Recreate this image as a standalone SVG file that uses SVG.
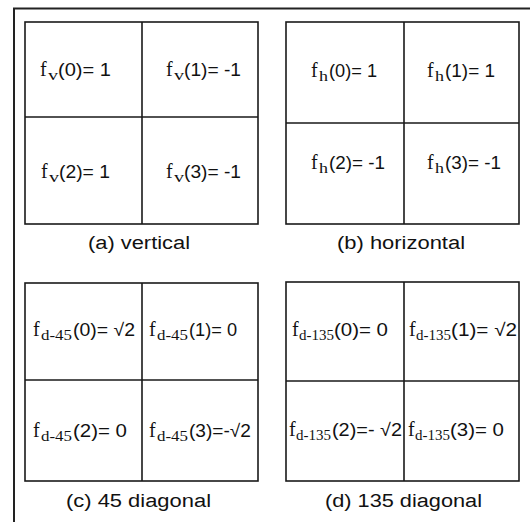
<svg xmlns="http://www.w3.org/2000/svg" width="530" height="522" viewBox="0 0 530 522">
<style>
.frame{fill:none;stroke:#222;stroke-width:2}
.grid{fill:none;stroke:#1a1a1a;stroke-width:1.6}
.f{font-family:"Liberation Serif",serif;font-size:20px;fill:#111}
.sub{font-family:"Liberation Serif",serif;font-size:14px;fill:#111}
.m{font-family:"Liberation Sans",Arial,sans-serif;font-size:18px;fill:#111}
.cap{font-family:"Liberation Sans",Arial,sans-serif;font-size:18px;fill:#111}
</style>
<rect width="530" height="522" fill="#fff"/>
<path class="frame" d="M14,522 V8.5 H530"/>
<g id="panel-a">
<rect class="grid" x="25" y="22" width="233" height="202"/>
<path class="grid" d="M142,22 V224 M25,117 H258"/>
<text><tspan class="f" x="40" y="76">f</tspan><tspan class="sub" x="48" y="80" textLength="10" lengthAdjust="spacingAndGlyphs">v</tspan><tspan class="m" x="58" y="76" textLength="53" lengthAdjust="spacingAndGlyphs">(0)= 1</tspan></text>
<text><tspan class="f" x="166" y="76">f</tspan><tspan class="sub" x="174" y="80" textLength="10" lengthAdjust="spacingAndGlyphs">v</tspan><tspan class="m" x="184" y="76" textLength="57" lengthAdjust="spacingAndGlyphs">(1)= -1</tspan></text>
<text><tspan class="f" x="41" y="178">f</tspan><tspan class="sub" x="49" y="182" textLength="10" lengthAdjust="spacingAndGlyphs">v</tspan><tspan class="m" x="59" y="178" textLength="51" lengthAdjust="spacingAndGlyphs">(2)= 1</tspan></text>
<text><tspan class="f" x="166" y="178">f</tspan><tspan class="sub" x="174" y="182" textLength="10" lengthAdjust="spacingAndGlyphs">v</tspan><tspan class="m" x="184" y="178" textLength="57" lengthAdjust="spacingAndGlyphs">(3)= -1</tspan></text>
<text class="cap" x="88" y="249" textLength="102" lengthAdjust="spacingAndGlyphs">(a) vertical</text>
</g>
<g id="panel-b">
<rect class="grid" x="286" y="22" width="233" height="202"/>
<path class="grid" d="M404,22 V224 M286,123 H519"/>
<text><tspan class="f" x="311" y="77">f</tspan><tspan class="sub" x="319" y="81" textLength="9" lengthAdjust="spacingAndGlyphs">h</tspan><tspan class="m" x="329" y="77" textLength="48" lengthAdjust="spacingAndGlyphs">(0)= 1</tspan></text>
<text><tspan class="f" x="427" y="77">f</tspan><tspan class="sub" x="435" y="81" textLength="9" lengthAdjust="spacingAndGlyphs">h</tspan><tspan class="m" x="445" y="77" textLength="50" lengthAdjust="spacingAndGlyphs">(1)= 1</tspan></text>
<text><tspan class="f" x="311" y="169">f</tspan><tspan class="sub" x="319" y="173" textLength="9" lengthAdjust="spacingAndGlyphs">h</tspan><tspan class="m" x="329" y="169" textLength="56" lengthAdjust="spacingAndGlyphs">(2)= -1</tspan></text>
<text><tspan class="f" x="427" y="169">f</tspan><tspan class="sub" x="435" y="173" textLength="9" lengthAdjust="spacingAndGlyphs">h</tspan><tspan class="m" x="445" y="169" textLength="56" lengthAdjust="spacingAndGlyphs">(3)= -1</tspan></text>
<text class="cap" x="337" y="249" textLength="128" lengthAdjust="spacingAndGlyphs">(b) horizontal</text>
</g>
<g id="panel-c">
<rect class="grid" x="25" y="283" width="233" height="198"/>
<path class="grid" d="M142,283 V481 M25,380 H258"/>
<text><tspan class="f" x="33" y="336">f</tspan><tspan class="sub" x="41" y="340" textLength="31" lengthAdjust="spacingAndGlyphs">d-45</tspan><tspan class="m" x="73" y="336" textLength="62" lengthAdjust="spacingAndGlyphs">(0)= √2</tspan></text>
<text><tspan class="f" x="149" y="336">f</tspan><tspan class="sub" x="157" y="340" textLength="31" lengthAdjust="spacingAndGlyphs">d-45</tspan><tspan class="m" x="189" y="336" textLength="48" lengthAdjust="spacingAndGlyphs">(1)= 0</tspan></text>
<text><tspan class="f" x="33" y="437">f</tspan><tspan class="sub" x="41" y="441" textLength="31" lengthAdjust="spacingAndGlyphs">d-45</tspan><tspan class="m" x="73" y="437" textLength="54" lengthAdjust="spacingAndGlyphs">(2)= 0</tspan></text>
<text><tspan class="f" x="149" y="437">f</tspan><tspan class="sub" x="157" y="441" textLength="31" lengthAdjust="spacingAndGlyphs">d-45</tspan><tspan class="m" x="189" y="437" textLength="62" lengthAdjust="spacingAndGlyphs">(3)=-√2</tspan></text>
<text class="cap" x="66" y="507" textLength="145" lengthAdjust="spacingAndGlyphs">(c) 45 diagonal</text>
</g>
<g id="panel-d">
<rect class="grid" x="286" y="282" width="233" height="199"/>
<path class="grid" d="M404,282 V481 M286,381 H519"/>
<text><tspan class="f" x="292" y="336">f</tspan><tspan class="sub" x="299" y="340" textLength="35" lengthAdjust="spacingAndGlyphs">d-135</tspan><tspan class="m" x="334" y="336" textLength="54" lengthAdjust="spacingAndGlyphs">(0)= 0</tspan></text>
<text><tspan class="f" x="409" y="336">f</tspan><tspan class="sub" x="416" y="340" textLength="35" lengthAdjust="spacingAndGlyphs">d-135</tspan><tspan class="m" x="451" y="336" textLength="66" lengthAdjust="spacingAndGlyphs">(1)= √2</tspan></text>
<text><tspan class="f" x="289" y="436">f</tspan><tspan class="sub" x="296" y="440" textLength="35" lengthAdjust="spacingAndGlyphs">d-135</tspan><tspan class="m" x="332" y="436" textLength="70" lengthAdjust="spacingAndGlyphs">(2)=- √2</tspan></text>
<text><tspan class="f" x="408" y="436">f</tspan><tspan class="sub" x="415" y="440" textLength="35" lengthAdjust="spacingAndGlyphs">d-135</tspan><tspan class="m" x="450" y="436" textLength="54" lengthAdjust="spacingAndGlyphs">(3)= 0</tspan></text>
<text class="cap" x="325" y="507" textLength="157" lengthAdjust="spacingAndGlyphs">(d) 135 diagonal</text>
</g>
</svg>
